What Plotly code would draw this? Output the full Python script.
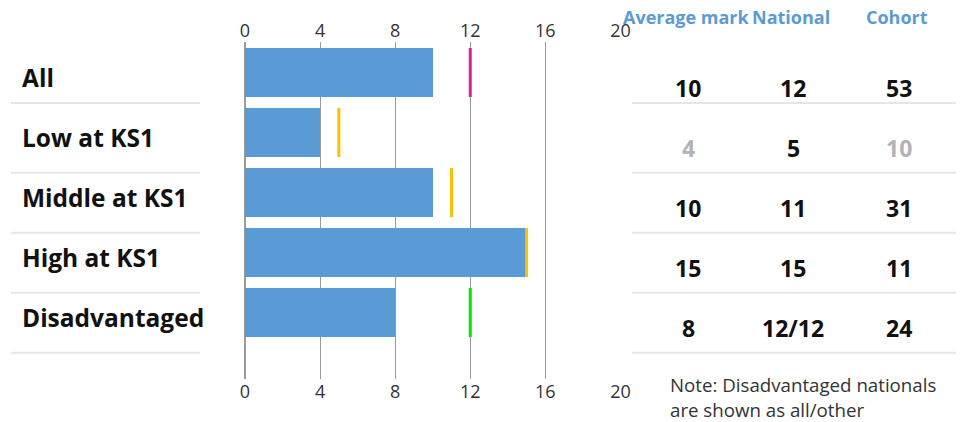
import plotly.graph_objects as go

categories = ["All", "Low at KS1", "Middle at KS1", "High at KS1", "Disadvantaged"]
average_mark = [10, 4, 10, 15, 8]
national = [12, 5, 11, 15, 12]
national_text = ["12", "5", "11", "15", "12/12"]
cohort = [53, 10, 31, 11, 24]
small_cohort = [False, True, False, False, False]
x_ticks = [0, 4, 8, 12, 16, 20]
headers = ["Average mark", "National", "Cohort"]
note_lines = ["Note: Disadvantaged nationals", "are shown as all/other"]

W, H = 966, 422
BAR = "#5b9bd5"
marker_colors = ["#d9239b", "#ffc000", "#ffc000", "#ffc000", "#00e600"]

def px(x):
    return x / W

def py(y):
    return 1 - y / H

rows = list(range(len(categories)))

fig = go.Figure()
fig.add_trace(go.Bar(
    x=average_mark, y=rows, orientation="h", width=0.82,
    marker=dict(color=BAR, line=dict(width=0)), hoverinfo="skip",
    xaxis="x", yaxis="y",
))
fig.add_trace(go.Scatter(
    x=national, y=rows, mode="markers",
    marker=dict(symbol="line-ns", size=35,
                line=dict(width=3, color=marker_colors)),
    hoverinfo="skip", xaxis="x2", yaxis="y",
))

y_top_px, y_bot_px = 42, 379
row0_px, row_step = 72.5, 60.0
y_range = [(y_bot_px - row0_px) / row_step, (y_top_px - row0_px) / row_step]

tick_font = dict(family="Open Sans", size=18, color="#333333")
fig.update_layout(
    width=W, height=H, autosize=False,
    margin=dict(l=0, r=0, t=0, b=0, autoexpand=False),
    paper_bgcolor="white", plot_bgcolor="white",
    showlegend=False, bargap=0,
    xaxis=dict(domain=[px(245), px(621)], range=[0, 20.03], tickvals=x_ticks,
               showgrid=True, gridcolor="#9a9a9a", gridwidth=1,
               zeroline=True, zerolinecolor="#9a9a9a", zerolinewidth=2,
               showline=False, ticks="", tickfont=tick_font, fixedrange=True),
    xaxis2=dict(overlaying="x", side="top", matches="x", tickvals=x_ticks,
                showgrid=False, zeroline=False, showline=False, ticks="",
                tickfont=tick_font, fixedrange=True),
    yaxis=dict(domain=[py(y_bot_px), py(y_top_px)], range=y_range,
               showticklabels=False, showgrid=False, zeroline=False,
               ticks="", fixedrange=True),
)

annotations = []
shapes = []
label_font = dict(family="Open Sans", size=24.5, color="#111111")
val_font = dict(family="Open Sans", size=23, color="#111111")
gray_font = dict(family="Open Sans", size=23, color="#b3b3b3")
col_x = [688, 793, 899]
sep_offsets = [0.51, 0.67, 0.67, 0.67, 0.67]

for i, cat in enumerate(categories):
    annotations.append(dict(x=px(20), y=i, xref="paper", yref="y",
                            text=f"<b>{cat}</b>", showarrow=False,
                            xanchor="left", yanchor="middle", yshift=-4.5,
                            font=label_font))
    vals = [str(average_mark[i]), national_text[i], str(cohort[i])]
    fonts = [gray_font if small_cohort[i] else val_font, val_font,
             gray_font if small_cohort[i] else val_font]
    for cx, v, f in zip(col_x, vals, fonts):
        annotations.append(dict(x=px(cx), y=i, xref="paper", yref="y",
                                text=f"<b>{v}</b>", showarrow=False,
                                xanchor="center", yanchor="middle", yshift=-15,
                                font=f))
    yl = i + sep_offsets[i]
    shapes.append(dict(type="line", xref="paper", yref="y", x0=px(11), x1=px(200),
                       y0=yl, y1=yl, line=dict(color="#e6e6e6", width=2)))
    shapes.append(dict(type="line", xref="paper", yref="y", x0=px(632), x1=px(956),
                       y0=yl, y1=yl, line=dict(color="#e6e6e6", width=2)))

for cx, h in zip(col_x, headers):
    annotations.append(dict(x=px(cx - 2), y=py(17), xref="paper", yref="paper",
                            text=f"<b>{h}</b>", showarrow=False,
                            xanchor="center", yanchor="middle",
                            font=dict(family="Open Sans", size=18, color=BAR)))

for k, line in enumerate(note_lines):
    annotations.append(dict(x=px(668), y=py(384 + 25 * k), xref="paper", yref="paper",
                            text=line, showarrow=False, xanchor="left", yanchor="middle",
                            font=dict(family="Open Sans", size=18.7, color="#333333")))

fig.update_layout(annotations=annotations, shapes=shapes)
fig.write_html("out.html",
               config={"responsive": False, "displayModeBar": False},
               post_script="document.body.style.margin='0';document.body.style.overflow='hidden';")
